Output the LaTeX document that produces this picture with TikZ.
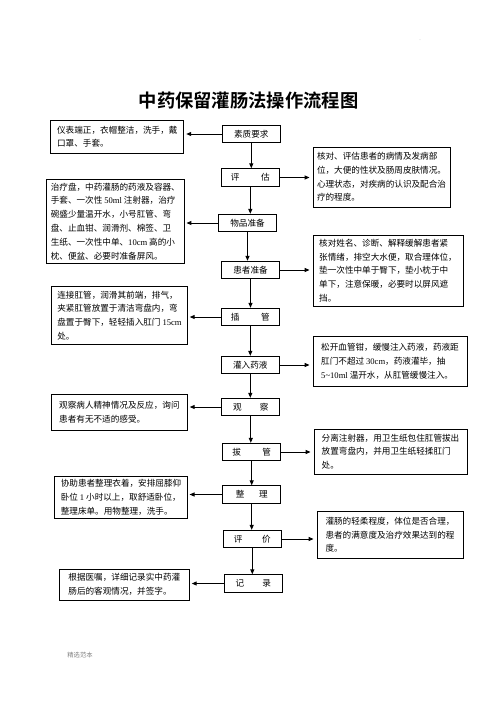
\documentclass[tikz,border=0pt]{standalone}
\usepackage{fontspec}
\setmainfont{Liberation Serif}
\newfontfamily\cjk{Noto Sans CJK SC}
\newfontfamily\cjkhei{Noto Sans CJK SC Bold}
\newcommand{\lat}[1]{{\rmfamily #1}}
\usepackage{tikz}
\usetikzlibrary{positioning, arrows.meta}

\begin{document}
\begin{tikzpicture}[x=1pt, y=-1pt,
    stepbox/.style={draw, line width=0.8pt, minimum width=58pt, minimum height=17.5pt, inner sep=1pt,
        font=\cjk\fontsize{8.6}{10}\selectfont},
    notebox/.style={draw, line width=0.8pt, align=left, inner sep=3pt,
        font=\cjk\fontsize{8.6}{13.8}\selectfont},
    arr/.style={line width=1pt, -{Triangle[length=5pt, width=4pt]}}]

    \useasboundingbox (0,0) rectangle (496,702);

    \node [font=\cjkhei\fontsize{18.3}{22}\selectfont] (title) at (248.5,100) {中药保留灌肠法操作流程图};
    \node [text=gray!60, font=\fontsize{6}{6}\selectfont] (dot) at (420,40) {.};

    % main steps
    \node [stepbox] (suzhi) at (251.3,134) {素质要求};
    \node [stepbox] (pinggu) at (250.3,177.5) {评\hspace{2.5em}估};
    \node [stepbox] (wupin) at (247.5,223) {物品准备};
    \node [stepbox] (huanzhe) at (250.5,270) {患者准备};
    \node [stepbox] (chaguan) at (250.3,317) {插\hspace{2.5em}管};
    \node [stepbox] (guanru) at (250.3,365) {灌入药液};
    \node [stepbox] (guancha) at (250.8,407) {观\hspace{2.1em}察};
    \node [stepbox] (baguan) at (251.7,452) {拔\hspace{2.5em}管};
    \node [stepbox] (zhengli) at (251.7,494.5) {整\hspace{1.7em}理};
    \node [stepbox] (pingjia) at (252.3,539) {评\hspace{2.3em}价};
    \node [stepbox] (jilu) at (253.3,583.5) {记\hspace{2.1em}录};

    % notes on the left
    \node [notebox, minimum width=133pt, minimum height=33pt] (suzhiL) at (117.3,136.7)
        {仪表端正，衣帽整洁，洗手，戴\\口罩、手套。};
    \node [notebox, minimum width=137.5pt, minimum height=84pt] (wupinL) at (115.3,221.3)
        {治疗盘，中药灌肠的药液及容器、\\手套、一次性 \lat{50ml} 注射器，治疗\\碗盛少量温开水，小号肛管、弯\\盘、止血钳、润滑剂、棉签、卫\\生纸、一次性中单、\lat{10cm} 高的小\\枕、便盆、必要时准备屏风。};
    \node [notebox, minimum width=135.6pt, minimum height=58pt] (chaguanL) at (119.5,315.6)
        {连接肛管，润滑其前端，排气，\\夹紧肛管放置于清洁弯盘内，弯\\盘置于臀下，轻轻插入肛门 \lat{15cm}\\处。};
    \node [notebox, minimum width=135.8pt, minimum height=36pt] (guanchaL) at (119.4,412)
        {观察病人精神情况及反应，询问\\患者有无不适的感受。};
    \node [notebox, minimum width=132.3pt, minimum height=41.3pt] (zhengliL) at (121,497.3)
        {协助患者整理衣着，安排屈膝仰\\卧位 \lat{1} 小时以上，取舒适卧位，\\整理床单。用物整理，洗手。};
    \node [notebox, minimum width=130pt, minimum height=30.7pt] (jiluL) at (124.3,584.7)
        {根据医嘱，详细记录实中药灌\\肠后的客观情况，并签字。};

    % notes on the right
    \node [notebox, minimum width=137pt, minimum height=60pt] (pingguR) at (381.5,177)
        {核对、评估患者的病情及发病部\\位，大便的性状及肠周皮肤情况。\\心理状态，对疾病的认识及配合治\\疗的程度。};
    \node [notebox, minimum width=150pt, minimum height=71pt, inner ysep=2pt] (huanzheR) at (388,270.5)
        {核对姓名、诊断、解释缓解患者紧\\张情绪，排空大水便，取合理体位，\\垫一次性中单于臀下，垫小枕于中\\单下，注意保暖，必要时以屏风遮\\挡。};
    \node [notebox, minimum width=154pt, minimum height=49.3pt] (guanruR) at (390,361.3)
        {松开血管钳，缓慢注入药液，药液距\\肛门不超过 \lat{30cm}，药液灌毕，抽\\\lat{5\textasciitilde10ml} 温开水，从肛管缓慢注入。};
    \node [notebox, minimum width=153pt, minimum height=45pt] (baguanR) at (390.5,451.5)
        {分离注射器，用卫生纸包住肛管拔出\\放置弯盘内，并用卫生纸轻揉肛门\\处。};
    \node [notebox, minimum width=146pt, minimum height=46.3pt] (pingjiaR) at (390,534.8)
        {灌肠的轻柔程度，体位是否合理，\\患者的满意度及治疗效果达到的程\\度。};

    \node [text=gray, font=\cjk\fontsize{6.3}{7}\selectfont] (footer) at (80,655) {精选范本};

    % down the middle
    \draw [arr] (suzhi.south) -- (suzhi.south |- pinggu.north);
    \draw [arr] (pinggu.south) -- (pinggu.south |- wupin.north);
    \draw [arr] (wupin.south) -- (wupin.south |- huanzhe.north);
    \draw [arr] (huanzhe.south) -- (huanzhe.south |- chaguan.north);
    \draw [arr] (chaguan.south) -- (chaguan.south |- guanru.north);
    \draw [arr] (guanru.south) -- (guanru.south |- guancha.north);
    \draw [arr] (guancha.south) -- (guancha.south |- baguan.north);
    \draw [arr] (baguan.south) -- (baguan.south |- zhengli.north);
    \draw [arr] (zhengli.south) -- (zhengli.south |- pingjia.north);
    \draw [arr] (pingjia.south) -- (pingjia.south |- jilu.north);

    % out to the notes
    \draw [arr, shorten >=2pt] (suzhi.west) -- (suzhi.west -| suzhiL.east);
    \draw [arr, shorten >=3pt] (pinggu.east) -- (pinggu.east -| pingguR.west);
    \draw [arr, shorten >=2pt] (wupin.west) -- (wupin.west -| wupinL.east);
    \draw [arr, shorten >=3pt] (huanzhe.east) -- (huanzhe.east -| huanzheR.west);
    \draw [arr, shorten >=2pt] (chaguan.west) -- (chaguan.west -| chaguanL.east);
    \draw [arr, shorten >=3pt] (guanru.east) -- (guanru.east -| guanruR.west);
    \draw [arr, shorten >=2pt] (guancha.west) -- (guancha.west -| guanchaL.east);
    \draw [arr, shorten >=3pt] (baguan.east) -- (baguan.east -| baguanR.west);
    \draw [arr, shorten >=2pt] (zhengli.west) -- (zhengli.west -| zhengliL.east);
    \draw [arr, shorten >=3pt] (pingjia.east) -- (pingjia.east -| pingjiaR.west);
    \draw [arr, shorten >=2pt] (jilu.west) -- (jilu.west -| jiluL.east);

\end{tikzpicture}
\end{document}
